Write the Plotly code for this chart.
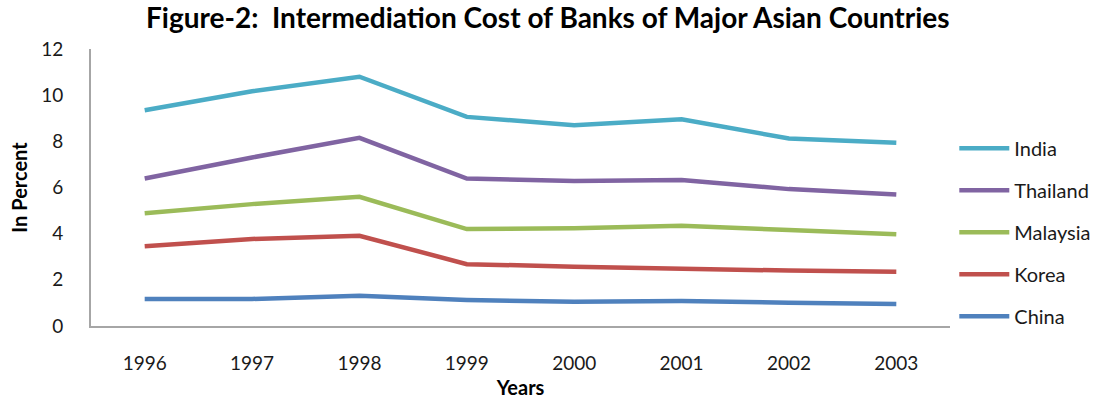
import plotly.graph_objects as go

years = ["1996", "1997", "1998", "1999", "2000", "2001", "2002", "2003"]
india = [9.35, 10.17, 10.8, 9.06, 8.7, 8.96, 8.12, 7.94]
thailand = [6.39, 7.3, 8.15, 6.39, 6.28, 6.32, 5.93, 5.7]
malaysia = [4.88, 5.28, 5.6, 4.2, 4.23, 4.34, 4.16, 3.97]
korea = [3.46, 3.77, 3.91, 2.68, 2.57, 2.47, 2.4, 2.35]
china = [1.17, 1.17, 1.31, 1.13, 1.05, 1.08, 1.01, 0.95]

series = [
    ("India", india, "#4BACC6"),
    ("Thailand", thailand, "#8064A2"),
    ("Malaysia", malaysia, "#9BBB59"),
    ("Korea", korea, "#C0504D"),
    ("China", china, "#4F81BD"),
]

FONT = "Lato"
fig = go.Figure()
for name, vals, col in series:
    fig.add_trace(go.Scatter(
        x=years, y=vals, name=name, mode="lines", legendgroup=name,
        line=dict(color=col, width=4.5),
    ))

fig.update_layout(
    width=1118, height=401,
    margin=dict(l=91, r=168, t=49, b=75, autoexpand=False),
    paper_bgcolor="white", plot_bgcolor="white",
    font=dict(family=FONT, size=19, color="#1a1a1a"),
    title=dict(text="<b>Figure-2:  Intermediation Cost of Banks of Major Asian Countries</b>",
               x=0.49, xanchor="center", y=0.955, yanchor="middle",
               font=dict(family=FONT, size=28, color="#000000")),
    showlegend=True,
    legend=dict(x=1.005, xanchor="left", y=0.338, yanchor="middle",
                font=dict(family=FONT, size=20, color="#1a1a1a"),
                traceorder="grouped", tracegroupgap=13,
                itemwidth=50, bgcolor="rgba(0,0,0,0)"),
    xaxis=dict(type="category", range=[-0.5, 7.5], showgrid=False,
               showline=True, linecolor="#A6A6A6", linewidth=2,
               ticks="", ticklabelstandoff=19, automargin=False,
               title=dict(text="<b>Years</b>", standoff=8,
                          font=dict(family=FONT, size=20, color="#000000"))),
    yaxis=dict(range=[0, 12], dtick=2, showgrid=False, zeroline=False,
               showline=True, linecolor="#A6A6A6", linewidth=2,
               ticks="", ticklabelstandoff=22, automargin=False,
               title=dict(text="<b>In Percent</b>", standoff=8,
                          font=dict(family=FONT, size=20, color="#000000"))),
)

fig.write_html("out.html")
